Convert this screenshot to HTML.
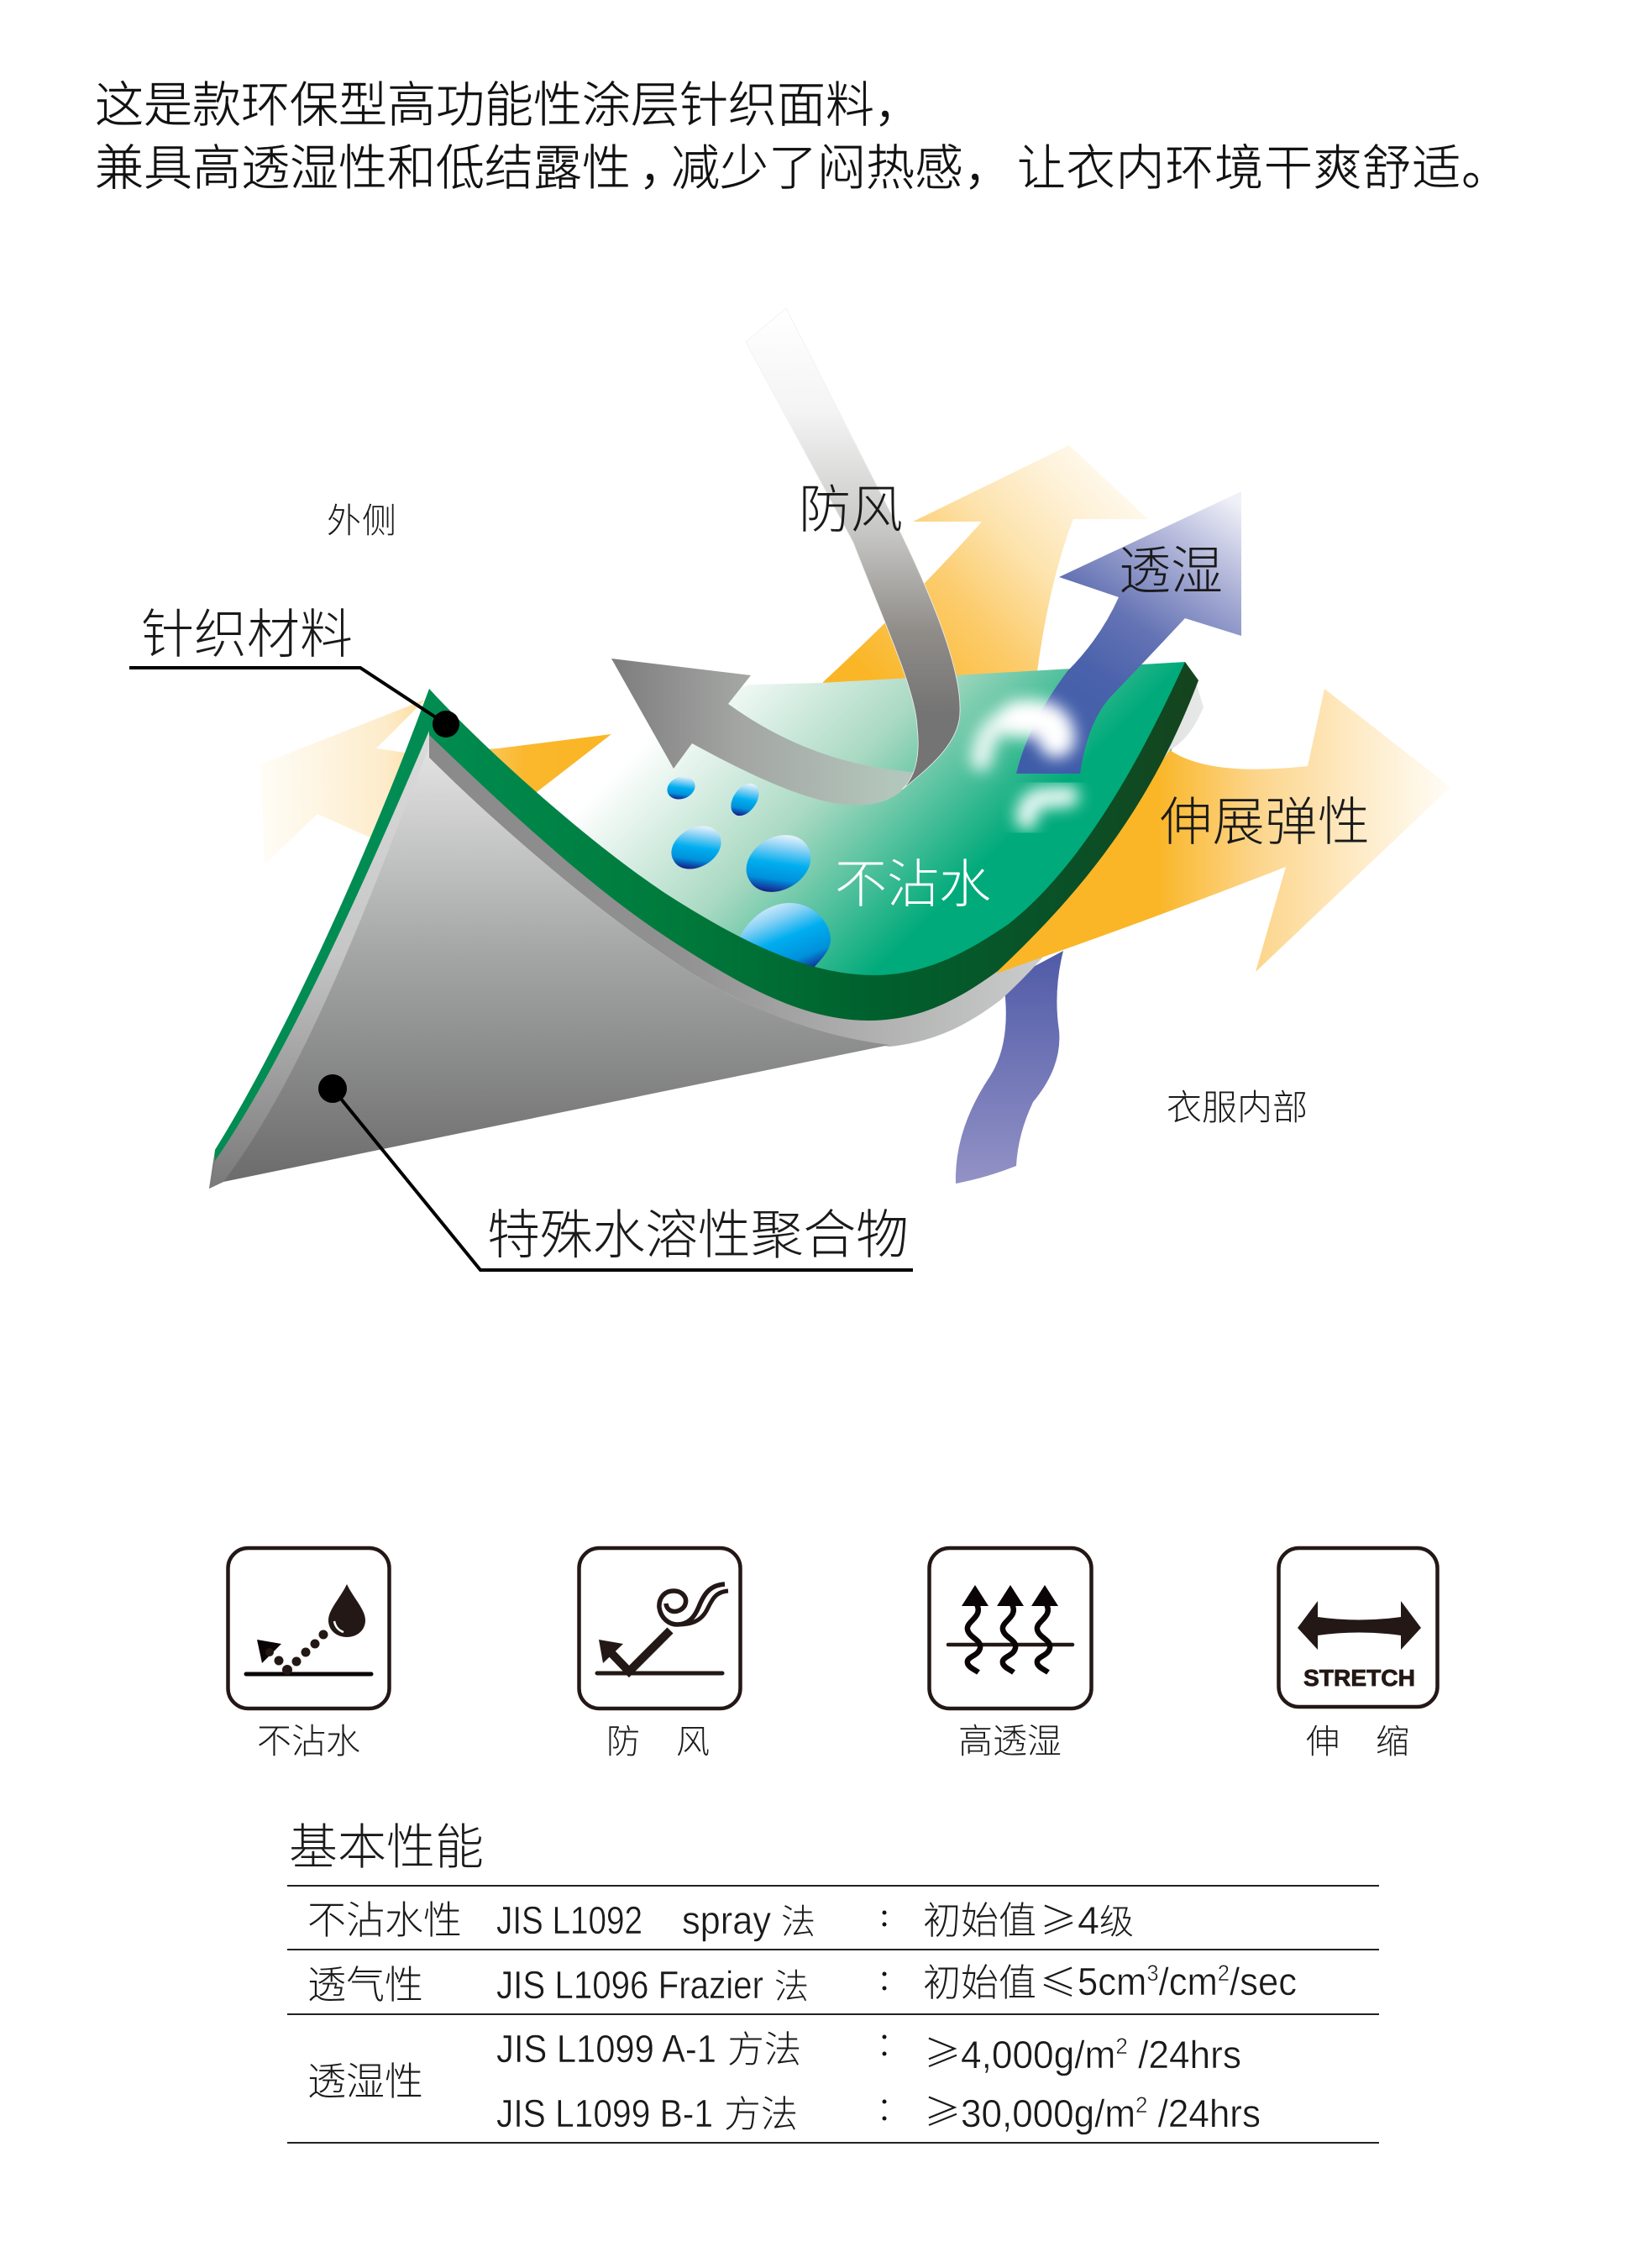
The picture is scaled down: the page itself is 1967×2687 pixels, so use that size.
<!DOCTYPE html>
<html lang="zh"><head><meta charset="utf-8"><title>diagram</title>
<style>
html,body{margin:0;padding:0;background:#fff}
svg{display:block}
text{font-family:"Liberation Sans","Noto Sans CJK SC",sans-serif;font-weight:300;fill:#1a1a1a}
.c{font-family:"Noto Sans CJK SC","Liberation Sans",sans-serif}
.h{font-family:"Noto Sans CJK SC","Liberation Sans",sans-serif;font-weight:300;fill:#111;stroke:#111;stroke-width:.4}
.n{font-family:"Liberation Sans","Noto Sans CJK SC",sans-serif;font-weight:400;stroke:#fff;stroke-width:.5}
</style></head><body>
<svg xmlns="http://www.w3.org/2000/svg" width="1967" height="2687" viewBox="0 0 1967 2687">
<defs>
<linearGradient id="oL" gradientUnits="userSpaceOnUse" x1="310" y1="0" x2="680" y2="0"><stop offset="0" stop-color="#fffdf7"/><stop offset=".4" stop-color="#fdeccb"/><stop offset=".85" stop-color="#fbb82e"/><stop offset="1" stop-color="#fab627"/></linearGradient>
<linearGradient id="oT" gradientUnits="userSpaceOnUse" x1="1040" y1="810" x2="1320" y2="540"><stop offset="0" stop-color="#fab627"/><stop offset=".35" stop-color="#fccb6a"/><stop offset=".6" stop-color="#fde3ad"/><stop offset=".8" stop-color="#fef0d4"/><stop offset="1" stop-color="#fffbf2"/></linearGradient>
<linearGradient id="oR" gradientUnits="userSpaceOnUse" x1="1330" y1="0" x2="1730" y2="0"><stop offset="0" stop-color="#fab627"/><stop offset=".12" stop-color="#fab627"/><stop offset=".4" stop-color="#fcd488"/><stop offset=".7" stop-color="#feeac4"/><stop offset="1" stop-color="#fffdf8"/></linearGradient>
<linearGradient id="bU" gradientUnits="userSpaceOnUse" x1="1250" y1="900" x2="1460" y2="590"><stop offset="0" stop-color="#3f5ca9"/><stop offset=".3" stop-color="#4a62ab"/><stop offset=".5" stop-color="#6473b4"/><stop offset=".75" stop-color="#a9aed5"/><stop offset="1" stop-color="#f0f0f8"/></linearGradient>
<linearGradient id="bW" gradientUnits="userSpaceOnUse" x1="0" y1="1130" x2="0" y2="1410"><stop offset="0" stop-color="#4f5aa7"/><stop offset="1" stop-color="#9392c6"/></linearGradient>
<linearGradient id="sf" gradientUnits="userSpaceOnUse" x1="825" y1="825" x2="1100" y2="1100"><stop offset="0" stop-color="#fff"/><stop offset=".5" stop-color="#a9d9c2"/><stop offset="1" stop-color="#00aa7a"/></linearGradient>
<linearGradient id="bd" gradientUnits="userSpaceOnUse" x1="511" y1="0" x2="1427" y2="0"><stop offset="0" stop-color="#008c50"/><stop offset=".32" stop-color="#007a3b"/><stop offset=".58" stop-color="#00602d"/><stop offset=".85" stop-color="#0b4f26"/><stop offset="1" stop-color="#15431d"/></linearGradient>
<linearGradient id="gs" gradientUnits="userSpaceOnUse" x1="511" y1="0" x2="1433" y2="0"><stop offset="0" stop-color="#8a8a8a"/><stop offset=".32" stop-color="#919191"/><stop offset=".58" stop-color="#b0b1b0"/><stop offset=".75" stop-color="#c5c7c6"/><stop offset="1" stop-color="#e7e8e8"/></linearGradient>
<linearGradient id="cn" gradientUnits="userSpaceOnUse" x1="0" y1="870" x2="0" y2="1400"><stop offset="0" stop-color="#e8e8e8"/><stop offset=".5" stop-color="#a4a6a5"/><stop offset="1" stop-color="#6d6d6d"/></linearGradient>
<linearGradient id="cs" gradientUnits="userSpaceOnUse" x1="0" y1="860" x2="0" y2="1410"><stop offset="0" stop-color="#dcdcdc"/><stop offset=".5" stop-color="#c6c6c6"/><stop offset="1" stop-color="#7a7a7a"/></linearGradient>
<linearGradient id="wd" gradientUnits="userSpaceOnUse" x1="0" y1="370" x2="0" y2="850"><stop offset="0" stop-color="#fff"/><stop offset=".25" stop-color="#f4f4f4"/><stop offset=".55" stop-color="#c6c6c4"/><stop offset=".8" stop-color="#8f8c88"/><stop offset="1" stop-color="#747474"/></linearGradient>
<linearGradient id="ga" gradientUnits="userSpaceOnUse" x1="730" y1="0" x2="1060" y2="0"><stop offset="0" stop-color="#7d7d7d"/><stop offset=".45" stop-color="#a3a5a3"/><stop offset="1" stop-color="#b3c6bb"/></linearGradient>
<linearGradient id="dr" x1=".58" y1="0" x2=".42" y2="1"><stop offset="0" stop-color="#e4f2fc"/><stop offset=".22" stop-color="#86d0f5"/><stop offset=".5" stop-color="#00aeef"/><stop offset=".78" stop-color="#0090dc"/><stop offset="1" stop-color="#15248a"/></linearGradient>
<linearGradient id="de" x1=".25" y1="0" x2=".8" y2="1"><stop offset="0" stop-color="#e4f2fc"/><stop offset=".25" stop-color="#86d0f5"/><stop offset=".5" stop-color="#00aeef"/><stop offset=".8" stop-color="#0090dc"/><stop offset="1" stop-color="#15248a"/></linearGradient>
<filter id="bl" x="-60%" y="-60%" width="220%" height="220%"><feGaussianBlur stdDeviation="9"/></filter>
</defs>

<!-- header -->
<text class="h" x="113" y="145" font-size="58">这是款环保型高功能性涂层针织面料&#xFF0C;</text>
<text class="h" x="113" y="220" font-size="58">兼具高透湿性和低结露性</text>
<text class="h" x="761" y="220" font-size="58">&#xFF0C;</text>
<text class="h" x="799" y="220" font-size="58">减少了闷热感</text>
<text class="h" x="1148" y="220" font-size="58">&#xFF0C;</text>
<text class="h" x="1211" y="220" font-size="58" textLength="587">让衣内环境干爽舒适。</text>

<!-- back arrows -->
<path d="M315,1029 L310,910 L506,833 L448,891 L496,898 L593,891 L728,874 Q690,905 639,945 L500,1020 L445,999 L378,969 Z" fill="url(#oL)"/>
<path d="M980,812 Q1090,710 1169,621 L1087,621 L1273,530 L1367,618 L1278,618 Q1250,690 1235,799 L1235,830 L980,830 Z" fill="url(#oT)"/>
<path d="M1266,1132 Q1254,1180 1261,1227 Q1265,1270 1230,1312 Q1212,1350 1210,1388 Q1175,1402 1138,1409 Q1136,1345 1179,1281 Q1205,1240 1195,1170 Z" fill="url(#bW)"/>

<!-- surface -->
<path d="M630,950 L728,874 L800,840 L894,815 L978,813 L1259,797 L1411,788 L1427,830 L1340,1000 L1250,1120 L1100,1200 L1041,1200 L800,1120 Z" fill="url(#sf)"/>

<!-- water drops -->
<path d="M882,1113 C895,1090 918,1075 940,1075 C970,1075 990,1100 989,1120 C988,1132 978,1142 966,1155 L882,1125 Z" fill="url(#de)"/>
<path d="M892.4,1048 A40 30 -30 1 1 961.6,1008 A40 30 -30 1 1 892.4,1048 Z" fill="url(#dr)"/>
<path d="M802.2,1024.5 A31 22 -30 1 1 855.8,993.5 A31 22 -30 1 1 802.2,1024.5 Z" fill="url(#dr)"/>
<path d="M795,943.8 A17 13 -20 1 1 827,932.2 A17 13 -20 1 1 795,943.8 Z" fill="url(#dr)"/>
<path d="M875,969.2 A21 13 -55 1 1 899,934.8 A21 13 -55 1 1 875,969.2 Z" fill="url(#dr)"/>

<!-- gray underside strip -->
<path d="M511,870 L511,902 C610,1000 720,1090 800,1143 C880,1198 965,1232 1059,1246 C1112,1240 1150,1222 1192,1190 C1280,1110 1350,1000 1393,893 C1415,880 1425,860 1433,842 L1424,812 C1350,950 1280,1040 1190,1135 C1140,1175 1095,1190 1041,1190 C960,1180 880,1150 800,1100 C700,1040 600,950 511,870 Z" fill="url(#gs)"/>

<!-- right orange arrow -->
<path d="M1186,1159 Q1300,1020 1393,893 Q1440,925 1557,912 L1577,820 L1727,937 L1495,1157 L1531,1032 Q1370,1095 1186,1159 Z" fill="url(#oR)"/>

<!-- cone -->
<path d="M249,1415 L256,1369 C330,1255 430,1040 511,860 L511,902 C610,1000 720,1090 800,1143 C880,1198 965,1232 1059,1244 L266,1407 Z" fill="url(#cn)"/>
<path d="M249,1415 L256,1380 C340,1250 430,1040 511,866 L511,890 C450,1040 370,1270 266,1407 Z" fill="url(#cs)"/>
<path d="M256,1382 L256,1369 C330,1250 430,1040 511,820 L520,830 L511,870 C430,1060 340,1260 256,1382 Z" fill="#008c52"/>

<!-- green band -->
<path d="M511,820 C585,900 720,1020 812,1076 C880,1118 960,1161 1041,1161 C1100,1161 1150,1135 1201,1100 C1290,1030 1360,900 1411,788 L1427,810 C1370,960 1290,1060 1188,1156 C1135,1195 1090,1215 1034,1215 C950,1215 870,1165 800,1120 C700,1055 600,960 511,875 Z" fill="url(#bd)"/>

<!-- lower glow (under blue arrow edge) -->
<g filter="url(#bl)" fill="none" stroke="#fff" stroke-linecap="round">
<path d="M1222,975 Q1222,955 1240,950 L1272,948" stroke-width="26" opacity=".9"/>
</g>

<!-- up blue arrow -->
<path d="M1478,585 L1261,687 L1332,711 Q1310,760 1271,799 Q1225,860 1210,921 L1286,921 Q1295,860 1322,830 Q1370,780 1411,736 L1478,757 Z" fill="url(#bU)"/>

<!-- upper glow -->
<g filter="url(#bl)" fill="none" stroke="#fff" stroke-linecap="round">
<path d="M1168,905 Q1172,860 1215,850" stroke-width="26" opacity=".85"/>
<path d="M1212,856 Q1258,850 1258,880" stroke-width="44"/>
</g>

<!-- wind + deflection -->
<path d="M728,784 L894,804 L867,838 Q960,905 1068,917 L1090,920 L1072,943 Q1050,960 1018,958 Q960,960 824,885 L802,915 Z" fill="url(#ga)"/>
<path d="M936,367 L888,407 L1016,646 C1050,735 1090,820 1092,865 C1096,900 1090,925 1074,940 C1105,915 1143,885 1143,847 C1145,790 1100,690 1067,623 Z" fill="url(#wd)" stroke="#f0f0f0" stroke-width=".8"/>

<!-- leaders -->
<polyline points="154,795 429,795 531,862" fill="none" stroke="#000" stroke-width="4"/>
<circle cx="531" cy="862" r="16" fill="#000"/>
<polyline points="396,1296 572,1512 1087,1512" fill="none" stroke="#000" stroke-width="4"/>
<circle cx="396" cy="1296" r="17" fill="#000"/>

<!-- diagram labels -->
<text class="c" x="389" y="634" font-size="41" textLength="83">外侧</text>
<text class="c" x="951" y="628" font-size="62" textLength="124">防风</text>
<text class="c" x="1332" y="701" font-size="62" textLength="124">透湿</text>
<text class="c" x="168" y="777" font-size="63" textLength="252">针织材料</text>
<text class="c" x="1381" y="1000" font-size="62" textLength="250">伸展弹性</text>
<text class="c" x="994" y="1074" font-size="62" textLength="186" style="fill:#fff">不沾水</text>
<text class="c" x="1389" y="1333" font-size="42" textLength="168">衣服内部</text>
<text class="c" x="580" y="1492" font-size="63" textLength="502">特殊水溶性聚合物</text>

<!-- icons -->
<g fill="none" stroke="#231815" stroke-width="4.5">
<rect x="271.5" y="1843" width="192" height="191" rx="24"/>
<rect x="689.5" y="1843" width="192" height="191" rx="24"/>
<rect x="1106.5" y="1843" width="193" height="191" rx="24"/>
<rect x="1522.5" y="1843" width="189" height="189" rx="24"/>
</g>
<!-- icon 1 -->
<line x1="293" y1="1993" x2="442" y2="1993" stroke="#0a0406" stroke-width="5" stroke-linecap="round"/>
<path d="M413,1886 C405,1903 391,1916 391,1929 C391,1941 401,1949 413,1949 C425,1949 435,1941 435,1929 C435,1916 421,1903 413,1886 Z" fill="#231815"/>
<path d="M398,1930 Q400,1940 409,1943" fill="none" stroke="#fff" stroke-width="2.5"/>
<path d="M306,1952 L335,1957 L312,1980 Z" fill="#0a0406"/>
<g fill="#231815"><circle cx="385" cy="1946" r="5.5"/><circle cx="375" cy="1957" r="5.5"/><circle cx="364" cy="1967" r="5.5"/><circle cx="353" cy="1978" r="5.5"/><circle cx="342" cy="1988" r="6"/><circle cx="332" cy="1977" r="5.5"/><circle cx="321" cy="1967" r="5"/></g>
<!-- icon 2 -->
<line x1="711" y1="1992" x2="860" y2="1992" stroke="#231815" stroke-width="5" stroke-linecap="round"/>
<path d="M713,1952 L742,1957 L718,1980 Z" fill="#231815"/>
<polyline points="798,1941 749,1990 727,1967" fill="none" stroke="#231815" stroke-width="10"/>
<path d="M793,1909 C794,1920 808,1922 815,1912 C820,1902 812,1894 802,1894 C790,1894 784,1904 785,1914 C787,1927 797,1934 806,1934 C820,1934 827,1925 832,1913 C838,1898 845,1887 863,1886" fill="none" stroke="#231815" stroke-width="5.5"/>
<path d="M806,1934 C820,1934 834,1932 842,1916 C848,1904 852,1895 867,1894" fill="none" stroke="#231815" stroke-width="5"/>
<!-- icon 3 -->
<line x1="1129" y1="1958" x2="1277" y2="1958" stroke="#231815" stroke-width="4.5" stroke-linecap="round"/>
<g fill="#0a0406"><path d="M1161,1887 L1177,1912 L1145,1912 Z"/><path d="M1203,1887 L1219,1912 L1187,1912 Z"/><path d="M1244,1887 L1260,1912 L1228,1912 Z"/></g>
<g fill="none" stroke="#0a0406" stroke-width="6.5">
<path d="M1163,1910 C1171,1925 1150,1930 1152,1940 C1154,1950 1169,1952 1167,1962 C1165,1972 1150,1972 1152,1980 C1153,1985 1161,1988 1165,1991"/>
<path d="M1205,1910 C1213,1925 1192,1930 1194,1940 C1196,1950 1211,1952 1209,1962 C1207,1972 1192,1972 1194,1980 C1195,1985 1203,1988 1207,1991"/>
<path d="M1246,1910 C1254,1925 1233,1930 1235,1940 C1237,1950 1252,1952 1250,1962 C1248,1972 1233,1972 1235,1980 C1236,1985 1244,1988 1248,1991"/>
</g>
<!-- icon 4 -->
<path d="M1545,1938 L1569,1906 L1569,1925 Q1618,1932 1668,1925 L1668,1906 L1692,1938 L1668,1964 L1668,1947 Q1618,1940 1569,1947 L1569,1964 Z" fill="#231815"/>
<text x="1552" y="2007" font-size="28" textLength="133" lengthAdjust="spacingAndGlyphs" style="fill:#231815;font-weight:700;stroke:#231815;stroke-width:.8">STRETCH</text>
<!-- icon labels -->
<text class="c" x="306" y="2087" font-size="41" textLength="123">不沾水</text>
<text class="c" x="722" y="2087" font-size="40">防</text><text class="c" x="805" y="2087" font-size="40">风</text>
<text class="c" x="1141" y="2087" font-size="41" textLength="123">高透湿</text>
<text class="c" x="1555" y="2087" font-size="40">伸</text><text class="c" x="1638" y="2087" font-size="40">缩</text>

<!-- table -->
<text class="c" x="344" y="2219" font-size="58" textLength="232">基本性能</text>
<g stroke="#222" stroke-width="2"><line x1="342" y1="2245" x2="1642" y2="2245"/><line x1="342" y1="2321" x2="1642" y2="2321"/><line x1="342" y1="2398" x2="1642" y2="2398"/><line x1="342" y1="2551" x2="1642" y2="2551"/></g>

<text class="c" x="366" y="2302" font-size="46" textLength="184">不沾水性</text>
<text class="n" x="591" y="2302" font-size="46" textLength="174" lengthAdjust="spacingAndGlyphs">JIS L1092</text>
<text class="n" x="812" y="2302" font-size="46" textLength="106" lengthAdjust="spacingAndGlyphs">spray</text>
<text class="c" x="930" y="2302" font-size="41">法</text>
<text class="c" x="1099" y="2302" font-size="45" textLength="135">初始值</text>
<text class="c" x="1238" y="2302" font-size="44">≥</text>
<text class="n" x="1283" y="2302" font-size="46" textLength="26" lengthAdjust="spacingAndGlyphs">4</text>
<text class="c" x="1309" y="2302" font-size="41">级</text>
<g fill="#111"><circle cx="1053" cy="2277" r="2.5"/><circle cx="1053" cy="2291" r="2.5"/><circle cx="1053" cy="2350" r="2.5"/><circle cx="1053" cy="2367" r="2.5"/><circle cx="1053" cy="2425" r="2.5"/><circle cx="1053" cy="2445" r="2.5"/><circle cx="1053" cy="2502" r="2.5"/><circle cx="1053" cy="2522" r="2.5"/></g>

<text class="c" x="366" y="2379" font-size="46" textLength="138">透气性</text>
<text class="n" x="591" y="2379" font-size="46" textLength="318" lengthAdjust="spacingAndGlyphs">JIS L1096 Frazier</text>
<text class="c" x="922" y="2379" font-size="41">法</text>
<text class="c" x="1099" y="2376" font-size="45" textLength="135">初始值</text>
<text class="c" x="1238" y="2376" font-size="44">≤</text>
<text class="n" x="1283" y="2375" font-size="46" textLength="261" lengthAdjust="spacingAndGlyphs">5cm<tspan dy="-17" font-size="27">3</tspan><tspan dy="17">/cm</tspan><tspan dy="-17" font-size="27">2</tspan><tspan dy="17">/sec</tspan></text>

<text class="c" x="366" y="2494" font-size="46" textLength="138">透湿性</text>
<text class="n" x="591" y="2455" font-size="46" textLength="262" lengthAdjust="spacingAndGlyphs">JIS L1099 A-1</text>
<text class="c" x="866" y="2455" font-size="44" textLength="88">方法</text>
<text class="c" x="1100" y="2460" font-size="44">≥</text>
<text class="n" x="1144" y="2462" font-size="46" textLength="334" lengthAdjust="spacingAndGlyphs">4,000g/m<tspan dy="-17" font-size="27">2</tspan><tspan dy="17"> /24hrs</tspan></text>

<text class="n" x="591" y="2532" font-size="46" textLength="258" lengthAdjust="spacingAndGlyphs">JIS L1099 B-1</text>
<text class="c" x="862" y="2532" font-size="44" textLength="88">方法</text>
<text class="c" x="1100" y="2530" font-size="44">≥</text>
<text class="n" x="1144" y="2532" font-size="46" textLength="357" lengthAdjust="spacingAndGlyphs">30,000g/m<tspan dy="-17" font-size="27">2</tspan><tspan dy="17"> /24hrs</tspan></text>
</svg>
</body></html>
